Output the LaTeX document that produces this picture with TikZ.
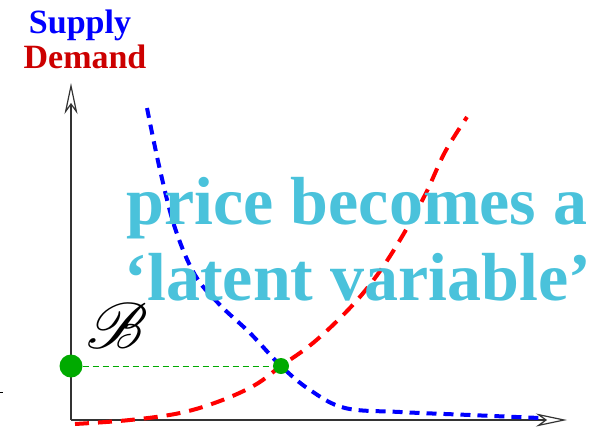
\documentclass[tikz,border=0pt]{standalone}
\usepackage{fontspec}
\setmainfont{Liberation Serif}
\usepackage{mathrsfs}
\usetikzlibrary{arrows.meta, positioning}
\usepackage{xcolor}
\definecolor{latentcyan}{RGB}{74,194,219}
\definecolor{demandred}{RGB}{204,0,0}
\definecolor{dotgreen}{RGB}{0,170,0}

\begin{document}
\begin{tikzpicture}[x=1pt, y=-1pt,
    axis/.style={draw=black!80, line width=1.4pt, -{Stealth[open, length=31pt, width=13pt, inset=9pt, line width=1.2pt]}},
    supplycurve/.style={blue, line width=4pt, dash pattern=on 10pt off 7pt},
    demandcurve/.style={red, line width=4pt, dash pattern=on 14pt off 9pt},
    pricedot/.style={circle, fill=dotgreen, inner sep=0pt}]
  \useasboundingbox (0,0) rectangle (607,429);

  % legend
  \node[blue, font=\fontsize{34}{34}\selectfont\bfseries, anchor=base] (supply) at (80,33) {Supply};
  \node[demandred, font=\fontsize{34}{34}\selectfont\bfseries, anchor=base] (demand) at (85,68) {Demand};

  % axes
  \coordinate (origin) at (71,420);
  \coordinate (ytop) at (71,83);
  \coordinate (xend) at (567,420);
  \draw[axis] (origin) -- (ytop);
  \draw[axis] (origin) -- (xend);
  \draw[black, line width=1pt] (0,392) -- (3,392);

  % curves
  \draw[supplycurve] plot[smooth, tension=0.6] coordinates {(147,108) (160,170) (175,228) (195,275) (220,305) (250,333) (281,366) (310,390) (345,408) (400,412) (470,415) (540,418)};
  \draw[demandcurve] plot[smooth, tension=0.6] coordinates {(75,424) (130,420) (180,413) (220,401) (255,385) (281,366) (313,343) (348,310) (375,278) (400,240) (425,195) (445,152) (467,117)};

  % equilibrium price
  \node[pricedot, minimum size=23pt] (bigdot) at (71,366) {};
  \node[pricedot, minimum size=16pt] (smalldot) at (281,366) {};
  \draw[dotgreen, line width=1pt, dash pattern=on 6pt off 4pt] (bigdot) -- (smalldot);
  \node[font=\fontsize{24.88}{24.88}\selectfont, scale=2.6, transform shape] (bset) at (117,326) {$\mathscr{B}$};

  % message
  \node[latentcyan, font=\fontsize{68}{68}\selectfont\bfseries, anchor=base] (price) at (357,224) {price becomes a};
  \node[latentcyan, font=\fontsize{68}{68}\selectfont\bfseries, anchor=base] (latent) at (358,300) {‘latent variable’};
\end{tikzpicture}
\end{document}
